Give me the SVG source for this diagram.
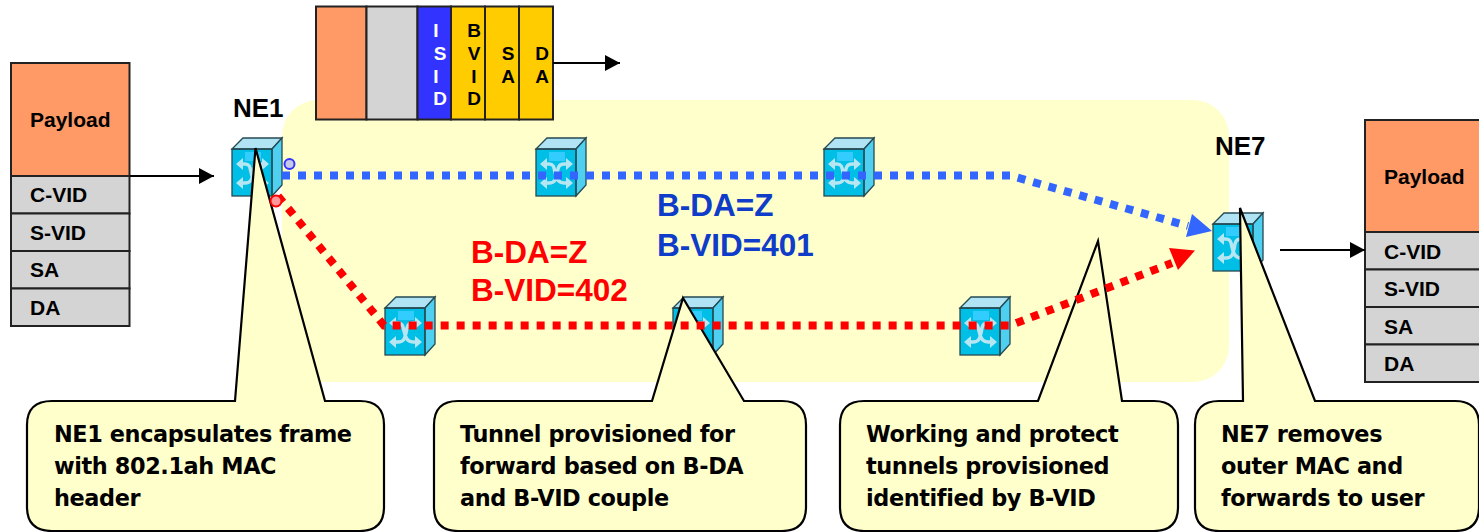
<svg xmlns="http://www.w3.org/2000/svg" width="1479" height="532" viewBox="0 0 1479 532">
<style>
text{font-family:"Liberation Sans",Arial,sans-serif;font-weight:700;fill:#000}
.cell{stroke:#222;stroke-width:2}
.or{fill:#ff9966}.gr{fill:#d4d4d4}.ye{fill:#ffcc00}.bl{fill:#3333ff}
.f{font-size:21px}
.ne{font-size:26px}
.big{font-size:31.500px}
.call{font-family:"DejaVu Sans",sans-serif;font-size:22.400px;letter-spacing:-.4px}
.co{fill:#ffffcc;stroke:#000;stroke-width:2.2}
.k{stroke:#000;stroke-width:2.2;fill:none}
.blue{stroke:#3366ff;stroke-width:8;stroke-dasharray:8 8;fill:none}
.red{stroke:#ff0000;stroke-width:8;stroke-dasharray:8 8;fill:none}
</style>
<defs>
<marker id="ak" markerUnits="userSpaceOnUse" markerWidth="16" markerHeight="16" refX="15" refY="8" orient="auto"><path d="M0 0L15 8L0 16z" fill="#000"/></marker>
<g id="sw">
<path d="M0 11L11 0H50V47L40 58H0z" fill="#00bfe6"/>
<rect x="13" y="14" width="16" height="9" fill="#33ccff"/>
<path d="M6 26H13C18 26 18 30 19 34C20 40 22 45 28 45H35M35 26H28C22 26 22 31 21 36C20 41 19 45 13 45H6" fill="none" stroke="#b5e6f2" stroke-width="3.500"/>
<path d="M4 26l7-6v12zM37 26l-7-6v12zM4 45l7-6v12zM37 45l-7-6v12z" fill="#b5e6f2"/>
<path d="M0 11L11 0H50L40 11z" fill="#b0e4f4" stroke="#264a52" stroke-width="1.300"/>
<path d="M40 11L50 0V47L40 58z" fill="#50d0f0" stroke="#264a52" stroke-width="1.300"/>
<rect x="0" y="11" width="40" height="47" fill="none" stroke="#264a52" stroke-width="1.300"/>
</g>
</defs>
<rect id="cloud" x="282" y="100" width="947" height="282" rx="36" fill="#ffffcc"/>

<g id="frame-top">
<rect class="cell or" x="316" y="6.500" width="50.500" height="113"/>
<rect class="cell gr" x="366.500" y="6.500" width="51" height="113"/>
<rect class="cell bl" x="417.500" y="6.500" width="33.500" height="113"/>
<rect class="cell ye" x="451" y="6.500" width="34" height="113"/>
<rect class="cell ye" x="485" y="6.500" width="34" height="113"/>
<rect class="cell ye" x="519" y="6.500" width="34" height="113"/>
<g text-anchor="middle" font-size="19">
<text x="436" y="37" style="fill:#fff">I</text><text x="440" y="60" style="fill:#fff">S</text><text x="436" y="83" style="fill:#fff">I</text><text x="440" y="105" style="fill:#fff">D</text>
<text x="474" y="37">B</text><text x="474" y="60">V</text><text x="474" y="83">I</text><text x="474" y="105">D</text>
<text x="508" y="60">S</text><text x="508" y="83">A</text>
<text x="542" y="60">D</text><text x="542" y="83">A</text>
</g>
</g>

<g id="frame-left">
<rect class="cell or" x="11" y="63" width="118.500" height="113"/>
<rect class="cell gr" x="11" y="176" width="118.500" height="37.500"/>
<rect class="cell gr" x="11" y="213.500" width="118.500" height="37.500"/>
<rect class="cell gr" x="11" y="251" width="118.500" height="37.500"/>
<rect class="cell gr" x="11" y="288.500" width="118.500" height="37.500"/>
<text class="f" x="30" y="127">Payload</text>
<text class="f" x="30" y="202">C-VID</text><text class="f" x="30" y="240">S-VID</text><text class="f" x="30" y="277">SA</text><text class="f" x="30" y="315">DA</text>
</g>
<g id="frame-right">
<rect class="cell or" x="1365" y="120" width="120" height="112"/>
<rect class="cell gr" x="1365" y="232" width="120" height="37.500"/>
<rect class="cell gr" x="1365" y="269.500" width="120" height="37.500"/>
<rect class="cell gr" x="1365" y="307" width="120" height="37.500"/>
<rect class="cell gr" x="1365" y="344.500" width="120" height="37.500"/>
<text class="f" x="1384" y="184">Payload</text>
<text class="f" x="1384" y="259">C-VID</text><text class="f" x="1384" y="296">S-VID</text><text class="f" x="1384" y="334">SA</text><text class="f" x="1384" y="371">DA</text>
</g>

<g id="ne1"><use href="#sw" x="232" y="138"/><text class="ne" x="233" y="117">NE1</text></g>
<g id="sw2"><use href="#sw" x="536" y="138"/></g>
<g id="sw3"><use href="#sw" x="824" y="138"/></g>
<g id="sw4"><use href="#sw" x="385" y="297"/></g>
<g id="sw5"><use href="#sw" x="673" y="297"/></g>
<g id="sw6"><use href="#sw" x="960" y="297"/></g>
<g id="ne7"><use href="#sw" x="1213" y="213"/><text class="ne" x="1215" y="155">NE7</text></g>

<text class="big" x="657" y="216" style="fill:#0f3cc9">B-DA=Z</text>
<text class="big" x="657" y="256" style="fill:#0f3cc9">B-VID=401</text>
<text class="big" x="471" y="263" style="fill:#ff0000">B-DA=Z</text>
<text class="big" x="471" y="301" style="fill:#ff0000">B-VID=402</text>

<g id="callout1"><path class="co" d="M52 401H235L255.500 148L325 401H360Q384 401 384 425V507Q384 531 360 531H52Q27 531 27 507V425Q27 401 52 401z"/>
<text class="call" x="54" y="442">NE1 encapsulates frame</text><text class="call" x="54" y="474">with 802.1ah MAC</text><text class="call" x="54" y="506">header</text></g>
<g id="callout2"><path class="co" d="M458 401H652L683 298L744 401H782Q806 401 806 425V507Q806 531 782 531H458Q434 531 434 507V425Q434 401 458 401z"/>
<text class="call" x="460" y="442">Tunnel provisioned for</text><text class="call" x="460" y="474">forward based on B-DA</text><text class="call" x="460" y="506">and B-VID couple</text></g>
<g id="callout3"><path class="co" d="M864 401H1038L1098 241L1122 401H1154Q1178 401 1178 425V507Q1178 531 1154 531H864Q840 531 840 507V425Q840 401 864 401z"/>
<text class="call" x="866" y="442">Working and protect</text><text class="call" x="866" y="474">tunnels provisioned</text><text class="call" x="866" y="506">identified by B-VID</text></g>
<g id="callout4"><path class="co" d="M1219 401H1243L1240 208L1315 401H1455Q1479 401 1479 425V507Q1479 531 1455 531H1219Q1195 531 1195 507V425Q1195 401 1219 401z"/>
<text class="call" x="1221" y="442">NE7 removes</text><text class="call" x="1221" y="474">outer MAC and</text><text class="call" x="1221" y="506">forwards to user</text></g>

<g id="connectors">
<path class="k" d="M130 176H214" marker-end="url(#ak)"/>
<path class="k" d="M553 63H620" marker-end="url(#ak)"/>
<path class="k" d="M1280 250H1365" marker-end="url(#ak)"/>
<path class="blue" d="M282 175.500H1010L1188 226"/>
<path d="M1212 231L1186 237L1192 214z" fill="#3366ff"/>
<path class="red" d="M278 196L384 325.500H1010L1172 263"/>
<path d="M1195 250.500L1178 270L1169 248z" fill="#ff0000"/>
<circle cx="289.500" cy="164" r="5" fill="#c8c8e8" stroke="#3333ff" stroke-width="2"/>
<circle cx="276" cy="201" r="5.500" fill="#ff9999" stroke="#ff0000" stroke-width="2"/>
</g>
</svg>
